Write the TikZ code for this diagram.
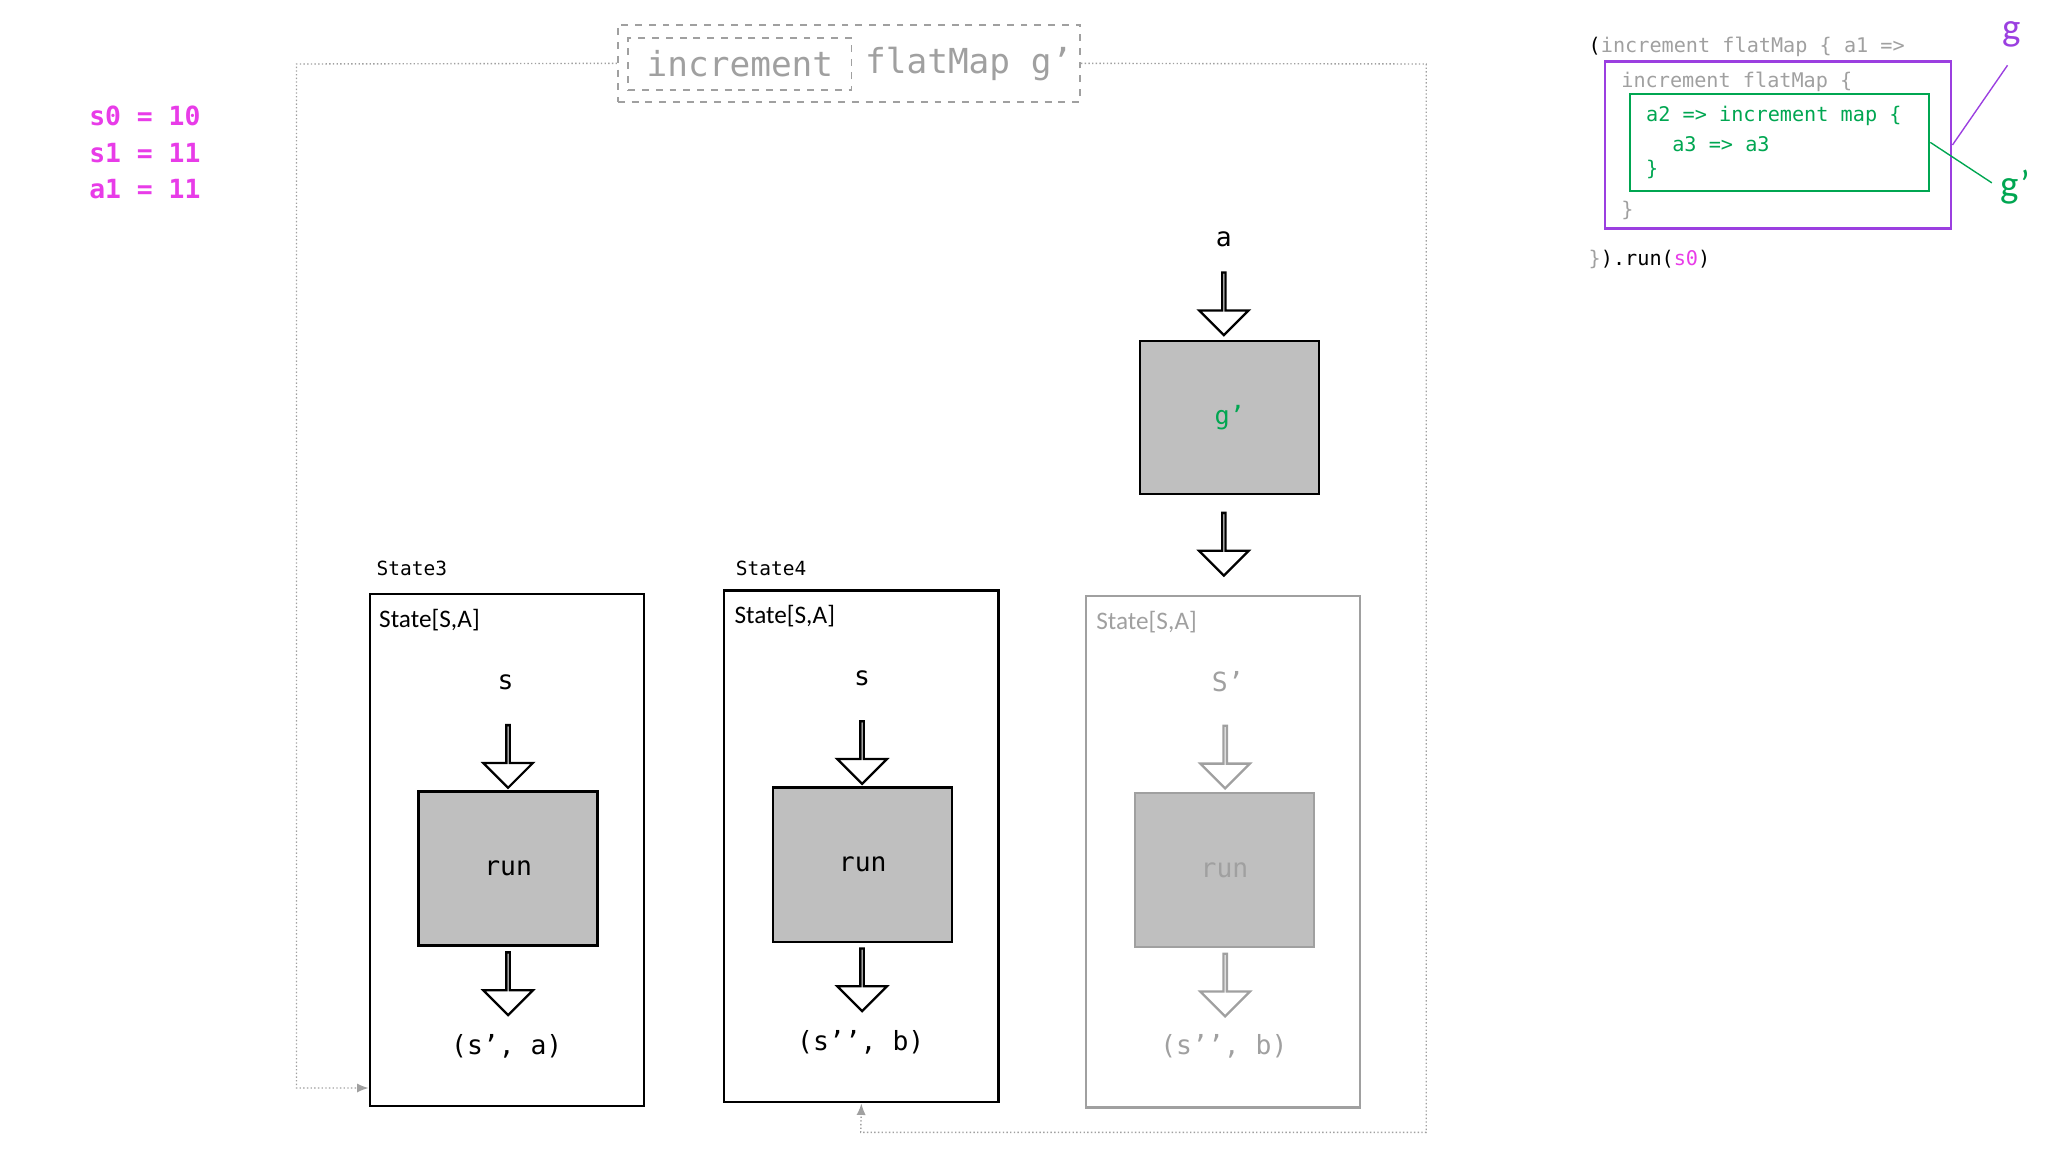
\documentclass[tikz,border=0pt]{standalone}
\usepackage{fontspec}
\setmainfont{Carlito}
\setmonofont{DejaVu Sans Mono}
\usetikzlibrary{shapes.arrows,arrows.meta,positioning}
\definecolor{pink}{HTML}{E83CE8}
\definecolor{codegreen}{HTML}{00A651}
\definecolor{codepurple}{HTML}{9B3FE0}
\definecolor{boxgray}{HTML}{BFBFBF}
\definecolor{dimgray}{HTML}{A0A0A0}
\tikzset{
  hollow/.style={single arrow, draw, fill=white, shape border rotate=270, line width=1pt,
    minimum height=0.96cm, minimum width=0.76cm, single arrow head extend=0.24cm,
    inner sep=0pt},
  runbox/.style={draw, fill=boxgray, line width=1pt, minimum width=2.74cm, minimum height=2.36cm,
    font=\ttfamily\fontsize{11.5}{13}\selectfont},
  statebox/.style={draw, line width=1pt, minimum width=4.2cm, minimum height=7.84cm},
  mono/.style={font=\ttfamily\fontsize{11.5}{13}\selectfont},
  code/.style={font=\ttfamily\fontsize{8.8}{10}\selectfont, anchor=west, inner sep=0pt},
  loop/.style={dimgray, densely dotted, line width=0.6pt},
}
\begin{document}
\begin{tikzpicture}[x=0.02cm, y=-0.02cm]
  \useasboundingbox (0,0) rectangle (1568,882);
  % state values
  \begin{scope}[pink, font=\ttfamily\bfseries\fontsize{11.5}{13}\selectfont]
    \node[anchor=west, inner sep=0pt] (s0) at (68,89) {s0 = 10};
    \node[anchor=west, inner sep=0pt] (s1) at (68,117) {s1 = 11};
    \node[anchor=west, inner sep=0pt] (a1) at (68,145) {a1 = 11};
  \end{scope}
  % title
  \node[draw=dimgray, dashed, line width=0.8pt, minimum width=7.08cm, minimum height=1.18cm] (title) at (650,48.5) {};
  \node[draw=dimgray, dashed, line width=0.8pt, text=dimgray, minimum width=3.42cm, minimum height=0.8cm,
    inner sep=1pt, font=\ttfamily\fontsize{15}{17}\selectfont] (inc) at (566.5,49) {increment};
  \node[text=dimgray, anchor=west, inner sep=0pt, font=\ttfamily\fontsize{15}{17}\selectfont] (fm) at (662,49) {flatMap g’};
  % g' step
  \node[mono] (a) at (937,183) {a};
  \node[hollow] (ar1) at (937,232) {};
  \node[runbox, minimum width=2.74cm, minimum height=2.34cm, text=codegreen, font=\ttfamily\fontsize{11}{13}\selectfont] (gp) at (941.5,319.5) {g’};
  \node[hollow] (ar2) at (937,416) {};
  % State3
  \node[anchor=west, inner sep=0pt, font=\ttfamily\fontsize{8.5}{10}\selectfont] (st3) at (288,435) {State3};
  \node[statebox] (box3) at (388,651) {};
  \node[anchor=west, inner sep=0pt, font=\fontsize{11}{13}\selectfont] at (290,475) {State[S,A]};
  \node[mono] (s3) at (387,522) {s};
  \node[hollow] at (389,578.5) {};
  \node[runbox] (run3) at (389,665) {run};
  \node[hollow] at (389,752.5) {};
  \node[mono] (out3) at (388,801) {(s’, a)};
  % State4
  \node[anchor=west, inner sep=0pt, font=\ttfamily\fontsize{8.5}{10}\selectfont] (st4) at (563,435) {State4};
  \node[statebox] (box4) at (659.5,648) {};
  \node[anchor=west, inner sep=0pt, font=\fontsize{11}{13}\selectfont] at (562,472) {State[S,A]};
  \node[mono] (s4) at (660,519) {s};
  \node[hollow] at (660,575.5) {};
  \node[runbox] (run4) at (660.5,662) {run};
  \node[hollow] at (660,749.5) {};
  \node[mono] (out4) at (659,798) {(s’’, b)};
  % result state
  \begin{scope}[dimgray]
    \node[statebox, draw=dimgray] (box5) at (936.5,652) {};
    \node[anchor=west, inner sep=0pt, font=\fontsize{11}{13}\selectfont] at (839,476) {State[S,A]};
    \node[mono] (s5) at (940,522) {S’};
    \node[hollow, draw=dimgray] at (938,579) {};
    \node[runbox, draw=dimgray, text=dimgray] (run5) at (937.5,666) {run};
    \node[hollow, draw=dimgray] at (938,753.5) {};
    \node[mono] (out5) at (937,801) {(s’’, b)};
  \end{scope}
  % loops
  \coordinate (l1) at (227,49);
  \coordinate (l2) at (227,833);
  \coordinate (r1) at (1092,49);
  \coordinate (r2) at (1092,867);
  \coordinate (r3) at (659,867);
  \draw[loop, -{Latex[length=5pt,width=4pt]}] (title.west) -- (l1) -- (l2) -- (box3.west |- l2);
  \draw[loop, -{Latex[length=5pt,width=4pt]}] (title.east) -- (r1) -- (r2) -- (r3) -- (box4.south);
  % code
  \node[code] (c1) at (1216,36) {(\textcolor{dimgray}{increment flatMap \{ a1 =>}};
  \node[draw=codepurple, line width=1pt, minimum width=5.3cm, minimum height=2.56cm] (gbox) at (1361.5,111) {};
  \node[code, dimgray] (c2) at (1241,63) {increment flatMap \{};
  \node[draw=codegreen, line width=1pt, minimum width=4.58cm, minimum height=1.48cm] (gpbox) at (1362.5,109) {};
  \node[code, codegreen] (c3) at (1260,89) {a2 => increment map \{};
  \node[code, codegreen] (c4) at (1280,110) {a3 => a3};
  \node[code, codegreen] (c5) at (1260,130) {\}};
  \node[code, dimgray] (c6) at (1241,161) {\}};
  \node[code] (c7) at (1216,199) {\textcolor{dimgray}{\}}).run(\textcolor{pink}{s0})};
  \node[codepurple, font=\fontsize{17}{19}\selectfont] (g) at (1540,26) {g};
  \node[codegreen, font=\fontsize{17}{19}\selectfont] (gq) at (1543,143) {g’};
  \coordinate (gl) at (1537,50);
  \coordinate (gql) at (1525,140);
  \draw[codepurple, line width=0.6pt] (gbox.east) -- (gl);
  \draw[codegreen, line width=0.6pt] (gpbox.east) -- (gql);
\end{tikzpicture}
\end{document}
